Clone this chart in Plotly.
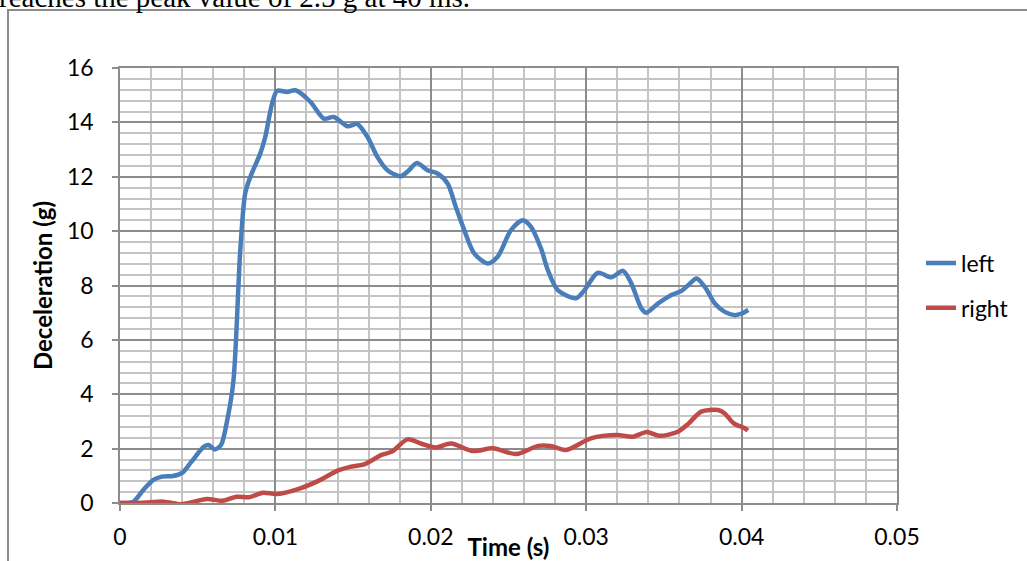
import plotly.graph_objects as go

# ---- data ----
left_t = [0, 0.00086, 0.0015, 0.00215, 0.0027, 0.0034, 0.004, 0.0046, 0.0054, 0.0057,
          0.0061, 0.0065, 0.0069, 0.0073, 0.00774, 0.00806, 0.00839, 0.00903, 0.00935,
          0.00979, 0.01011, 0.01075, 0.01129, 0.01226, 0.01312, 0.01376, 0.01463, 0.01527,
          0.01592, 0.01656, 0.01721, 0.01806, 0.0186, 0.0191, 0.01979, 0.02043, 0.02108,
          0.02161, 0.02215, 0.02279, 0.02366, 0.0243, 0.02516, 0.02592, 0.02645, 0.0271,
          0.02753, 0.02817, 0.02935, 0.02989, 0.03075, 0.03161, 0.03237, 0.0329, 0.03355,
          0.03387, 0.03463, 0.03548, 0.03613, 0.03656, 0.0371, 0.03763, 0.03828, 0.03892,
          0.03957, 0.04, 0.04043]
left_g = [0, 0.05, 0.48, 0.85, 0.97, 0.99, 1.11, 1.52, 2.07, 2.13,
          1.97, 2.13, 3.05, 4.5, 9.3, 11.4, 12.0, 12.86, 13.47,
          14.7, 15.16, 15.12, 15.18, 14.75, 14.14, 14.2, 13.86, 13.94,
          13.47, 12.73, 12.24, 12.02, 12.24, 12.51, 12.24, 12.12, 11.75,
          10.89, 10.04, 9.18, 8.81, 9.06, 10.04, 10.4, 10.16, 9.35,
          8.57, 7.83, 7.53, 7.83, 8.47, 8.3, 8.54, 8.08, 7.16,
          7.0, 7.34, 7.65, 7.8, 8.01, 8.26, 7.95, 7.34, 7.03,
          6.91, 6.97, 7.1]

right_t = [0, 0.0015, 0.0028, 0.0039, 0.0045, 0.0056, 0.0066, 0.0075, 0.0083, 0.0092,
           0.0101, 0.0116, 0.0129, 0.014, 0.0148, 0.0157, 0.0168, 0.0175, 0.0185, 0.0194,
           0.0203, 0.0213, 0.0227, 0.024, 0.0255, 0.0269, 0.0277, 0.0287, 0.0303, 0.032,
           0.033, 0.0339, 0.0347, 0.0359, 0.0366, 0.0374, 0.0385, 0.0389, 0.0395, 0.0402,
           0.0404]
right_g = [0, 0.01, 0.05, -0.05, 0.01, 0.15, 0.08, 0.23, 0.21, 0.38,
           0.33, 0.54, 0.85, 1.19, 1.33, 1.42, 1.76, 1.89, 2.34, 2.18,
           2.04, 2.19, 1.91, 2.01, 1.80, 2.10, 2.10, 1.95, 2.38, 2.5,
           2.44, 2.61, 2.47, 2.62, 2.93, 3.36, 3.42, 3.3, 2.93, 2.75,
           2.66]

series_names = ["left", "right"]
series_colors = ["#4A7EBB", "#BE4B48"]

x_title = "Time (s)"
y_title = "Deceleration (g)"
caption = "reaches the peak value of 2.5 g at 40 ms."

FONT = "Lato"
MAJOR = "#8C8C8C"
MINOR = "#C4C4C4"

fig = go.Figure()
for i, (t, g) in enumerate([(left_t, left_g), (right_t, right_g)]):
    fig.add_trace(go.Scatter(
        x=t, y=g, mode="lines", name=series_names[i], legendgroup=series_names[i],
        line=dict(color=series_colors[i], width=4.5, shape="spline", smoothing=0.8),
    ))

axis_common = dict(
    showline=True, mirror=True, linecolor=MAJOR, linewidth=1.5,
    showgrid=True, gridcolor=MAJOR, gridwidth=1.5,
    ticks="outside", ticklen=6, tickcolor=MAJOR, tickwidth=1.5,
    tickfont=dict(family=FONT, size=23, color="black"),
    zeroline=False, automargin=False,
)

fig.update_xaxes(
    range=[0, 0.05], dtick=0.01, tick0=0,
    minor=dict(dtick=0.002, showgrid=True, gridcolor=MINOR, gridwidth=1.5, ticks=""),
    ticklabelstandoff=7,
    title=dict(text="<b>" + x_title + "</b>", font=dict(family=FONT, size=24, color="black"), standoff=0),
    **axis_common,
)
fig.update_yaxes(
    range=[0, 16], dtick=2, tick0=0,
    minor=dict(dtick=0.4, showgrid=True, gridcolor=MINOR, gridwidth=1.5, ticks=""),
    ticklabelstandoff=14,
    title=dict(text="<b>" + y_title + "</b>", font=dict(family=FONT, size=24, color="black"), standoff=8),
    **axis_common,
)

# outer chart frame (pixel positions converted to paper coords)
L, T, W, H = 120, 68, 777, 435
def px(x):
    return (x - L) / W
def py(y):
    return (T + H - y) / H

fig.add_shape(type="rect", xref="paper", yref="paper",
              x0=px(8), x1=px(1040), y0=py(580), y1=py(10),
              line=dict(color="#8C8C8C", width=2), layer="below")

fig.add_annotation(text=caption, xref="paper", yref="paper", x=px(-3), y=py(15),
                   xanchor="left", yanchor="bottom", showarrow=False,
                   font=dict(family="Liberation Serif", size=29, color="black"))

fig.update_layout(
    width=1027, height=561,
    margin=dict(l=L, r=1027 - L - W, t=T, b=561 - T - H),
    paper_bgcolor="white", plot_bgcolor="white",
    font=dict(family=FONT, color="black"),
    legend=dict(x=px(921), y=0.5, xanchor="left", yanchor="middle",
                font=dict(family=FONT, size=23, color="black"),
                tracegroupgap=12, bgcolor="rgba(0,0,0,0)"),
)

fig.write_html("out.html", config={"displayModeBar": False},
               post_script="document.body.style.margin='0';document.body.style.overflow='hidden';")
